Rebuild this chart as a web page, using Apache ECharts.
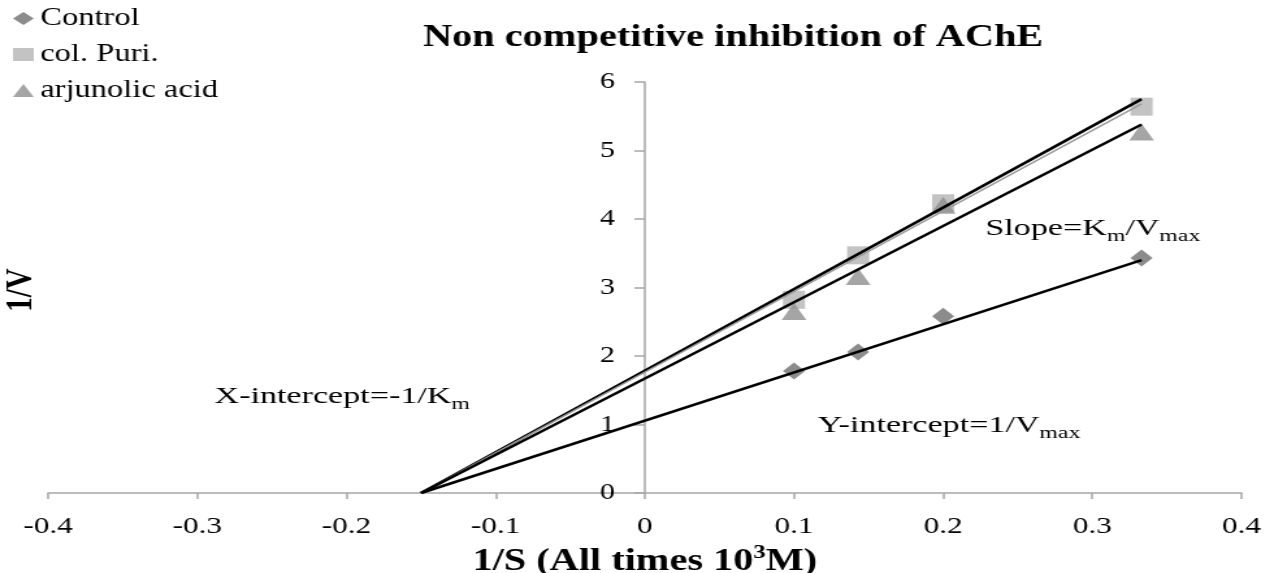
<!DOCTYPE html>
<html>
<head>
<meta charset="utf-8">
<script src="https://cdn.jsdelivr.net/npm/echarts@6/dist/echarts.min.js"></script>
<style>
  html, body { margin: 0; padding: 0; background: #fff; overflow: hidden; }
  /* the plot is laid out narrow and widened, giving the broad lettering of the figure */
  #chart { width: 977px; height: 573px; transform: scale(1.3, 1); transform-origin: 0 0; }
</style>
</head>
<body>
<div id="chart"></div>
<script>
// Lineweaver-Burk data: 1/S (x) against 1/V (y)
const invSubstrate = [0.1, 0.143, 0.2, 0.333];
const controlInvV = [1.78, 2.06, 2.58, 3.43];
const colPuriInvV = [2.82, 3.47, 4.23, 5.64];
const arjunolicInvV = [2.65, 3.16, 4.2, 5.27];

// fitted lines, drawn from the common x-intercept to the last substrate level
const fitX = [-0.15, 0.333];
const controlFitY = [0, 3.40];
const colPuriFitY = [0, 5.75];
const colPuriFitGrayY = [0, 5.68];
const arjunolicFitY = [0, 5.38];

const xMin = -0.4, xMax = 0.4, xTickStep = 0.1;
const yMin = 0, yMax = 6, yTickStep = 1;

const serif = "'Liberation Serif', 'Times New Roman', serif";

const W = 977, gridLeft = 37, gridRight = 22;
const gridWidth = W - gridLeft - gridRight;

function pairs(xs, ys) { return xs.map((x, i) => [x, ys[i]]); }

const chart = echarts.init(document.getElementById('chart'), null, { renderer: 'canvas' });

const fitLine = (name, ys, color, width) => ({
  name, type: 'line', data: pairs(fitX, ys), symbol: 'none', z: 5,
  lineStyle: { color, width }, silent: true
});

// notes with subscripts, slightly widened like the rest of the lettering
const note = (x, y, text) => ({
  type: 'text', x, y, scaleX: 1.14,
  style: {
    text, fill: '#000', align: 'left', verticalAlign: 'top',
    rich: {
      t: { fontFamily: serif, fontSize: 23, lineHeight: 24, verticalAlign: 'top', fill: '#000' },
      s: { fontFamily: serif, fontSize: 16, lineHeight: 40, fill: '#000' }
    }
  }
});

chart.setOption({
  animation: false,
  backgroundColor: '#fff',
  grid: { left: gridLeft, right: gridRight, top: 82, bottom: 80, outerBoundsMode: 'none', containLabel: false },
  legend: {
    orient: 'vertical', left: 10, top: 6, padding: 0, itemGap: 11,
    itemWidth: 16, itemHeight: 13, symbolKeepAspect: false,
    textStyle: { fontFamily: serif, fontSize: 25, color: '#000' },
    data: [
      { name: 'Control', icon: 'diamond' },
      { name: 'col. Puri.', icon: 'rect' },
      { name: 'arjunolic acid', icon: 'triangle' }
    ]
  },
  xAxis: {
    type: 'value', min: xMin, max: xMax, interval: xTickStep,
    splitLine: { show: false },
    axisLine: { lineStyle: { color: '#a6a6a6', width: 1.5 } },
    axisTick: { show: true, length: 6, lineStyle: { color: '#a6a6a6', width: 1.5 } },
    axisLabel: {
      fontFamily: serif, fontSize: 24, color: '#000', margin: 22,
      formatter: v => String(Math.round(v * 10) / 10)
    },
    name: '{b|1/S (All times 10}{sup|3}{b|M)}', nameLocation: 'middle', nameGap: 41,
    nameTextStyle: {
      fontFamily: serif, fontSize: 31, fontWeight: 'bold', color: '#000',
      rich: {
        b: { fontFamily: serif, fontSize: 31, fontWeight: 'bold', lineHeight: 34, verticalAlign: 'bottom', color: '#000' },
        sup: { fontFamily: serif, fontSize: 19, fontWeight: 'bold', lineHeight: 20, verticalAlign: 'top', color: '#000' }
      }
    }
  },
  yAxis: {
    type: 'value', min: yMin, max: yMax, interval: yTickStep,
    // the vertical axis stands at 1/S = 0, halfway across the plot
    offset: -gridWidth * (0 - xMin) / (xMax - xMin),
    splitLine: { show: false },
    axisLine: { onZero: false, lineStyle: { color: '#a6a6a6', width: 1.5 } },
    axisTick: { show: true, length: 8, lineStyle: { color: '#a6a6a6', width: 1.5 } },
    axisLabel: { fontFamily: serif, fontSize: 23, color: '#000', margin: 23 }
  },
  graphic: [
    {
      type: 'text', x: 564, y: 38,
      style: {
        text: 'Non competitive inhibition of AChE', fontFamily: serif, fontSize: 31,
        fontWeight: 'bold', fill: '#000', align: 'center', verticalAlign: 'middle'
      }
    },
    {
      type: 'text', x: 17, y: 290, rotation: Math.PI / 2,
      style: {
        text: '1/V', fontFamily: serif, fontSize: 29, fontWeight: 'bold', fill: '#000',
        align: 'center', verticalAlign: 'middle'
      }
    },
    note(758, 217, '{t|Slope=K}{s|m}{t|/V}{s|max}'),
    note(165, 385, '{t|X-intercept=-1/K}{s|m}'),
    note(629, 414, '{t|Y-intercept=1/V}{s|max}')
  ],
  series: [
    {
      name: 'Control', type: 'scatter', data: pairs(invSubstrate, controlInvV),
      symbol: 'diamond', symbolSize: [17, 17], itemStyle: { color: '#6f6f6f' }, z: 2
    },
    {
      name: 'col. Puri.', type: 'scatter', data: pairs(invSubstrate, colPuriInvV),
      symbol: 'rect', symbolSize: [17, 18], itemStyle: { color: '#b4b4b4' }, z: 2
    },
    {
      name: 'arjunolic acid', type: 'scatter', data: pairs(invSubstrate, arjunolicInvV),
      symbol: 'triangle', symbolSize: [19, 17], itemStyle: { color: '#8e8e8e' }, z: 2
    },
    fitLine('Control fit', controlFitY, '#000', 2.5),
    fitLine('col. Puri. fit', colPuriFitY, '#000', 2.5),
    fitLine('col. Puri. series line', colPuriFitGrayY, '#9a9a9a', 1.5),
    fitLine('arjunolic acid fit', arjunolicFitY, '#000', 2.5)
  ]
});
</script>
</body>
</html>
